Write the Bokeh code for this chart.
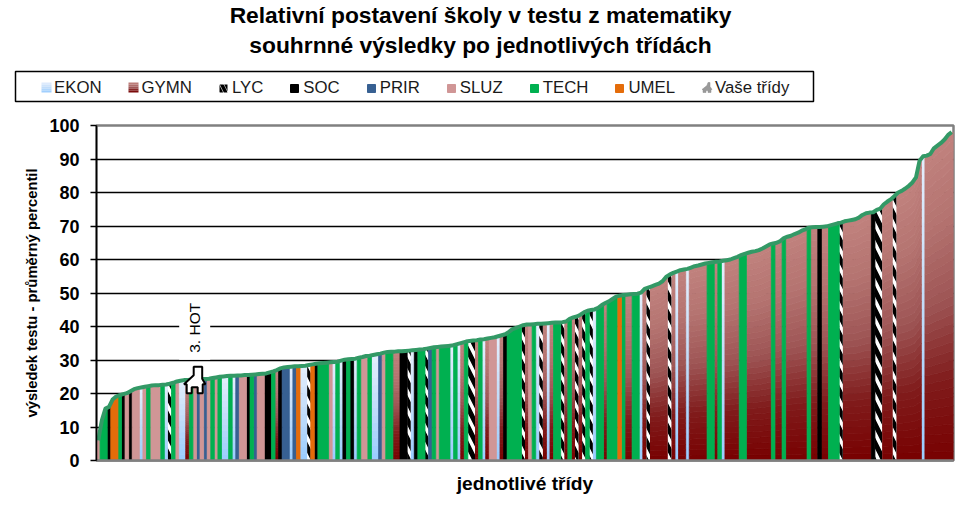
import math
import numpy as np
from bokeh.core.properties import value
from bokeh.embed import file_html
from bokeh.layouts import column
from bokeh.models import ColumnDataSource, FixedTicker, Label, Legend, LegendItem, Range1d
from bokeh.plotting import figure
from bokeh.resources import INLINE

title_lines = ["Relativní postavení školy v testu z matematiky",
               "souhrnné výsledky po jednotlivých třídách"]
y_label = "výsledek testu - průměrný percentil"
x_label = "jednotlivé třídy"
categories = ["EKON", "GYMN", "LYC", "SOC", "PRIR", "SLUZ", "TECH", "UMEL"]
your_classes_label = "Vaše třídy"
y_ticks = [0, 10, 20, 30, 40, 50, 60, 70, 80, 90, 100]

run_types = [
    "SLUZ","TECH","SOC","UMEL","TECH","SOC","SLUZ","SOC","SLUZ","EKON","SLUZ","TECH","SLUZ","TECH","EKON","LYC",
    "TECH","SLUZ","EKON","GYMN","TECH","SLUZ","PRIR","SLUZ","PRIR","SLUZ","TECH","SLUZ","TECH","EKON","TECH","EKON",
    "PRIR","SLUZ","SOC","TECH","PRIR","SLUZ","SOC","TECH","GYMN","SOC","PRIR","EKON","PRIR","UMEL",
    "EKON","LYC","UMEL","SOC","TECH","SLUZ","EKON","TECH","EKON","SOC","TECH","SOC","EKON","TECH","SLUZ","TECH",
    "EKON","PRIR","SLUZ","TECH","GYMN","SOC","LYC","EKON","SOC","TECH","LYC","PRIR","TECH","SLUZ","TECH","EKON",
    "TECH","EKON","GYMN","TECH","LYC","GYMN","TECH","EKON","GYMN","SLUZ","EKON","GYMN","SOC","TECH",
    "LYC","GYMN","SLUZ","TECH","EKON","LYC","GYMN","EKON","GYMN","TECH","LYC","GYMN","TECH","GYMN","LYC","GYMN",
    "LYC","TECH","LYC","EKON","TECH","GYMN","TECH","UMEL","TECH","GYMN","TECH","EKON","GYMN","LYC","GYMN","LYC",
    "GYMN","EKON","GYMN","EKON","GYMN","TECH","GYMN","TECH","EKON","GYMN",
    "TECH","GYMN","TECH","GYMN","TECH","GYMN","TECH","GYMN","SOC","GYMN","TECH","LYC","GYMN","SOC","LYC","GYMN",
    "LYC","GYMN","EKON","GYMN",
]
run_counts = [
    1,2,1,2,1,1,1,1,2,1,1,1,3,1,1,1,
    1,1,2,1,1,1,1,1,1,1,1,1,1,2,1,1,
    1,2,1,1,1,2,2,1,1,1,2,1,1,1,
    2,1,1,1,3,1,1,1,1,1,1,1,1,1,2,1,
    2,1,1,2,2,2,1,1,1,2,1,1,1,1,3,1,
    1,1,1,1,2,1,1,1,1,2,1,1,1,4,
    1,1,1,1,1,1,1,1,1,2,1,1,1,1,1,1,
    1,1,1,1,2,1,3,1,1,2,2,1,1,1,5,1,
    1,1,2,1,5,2,1,1,1,4,
    2,7,1,2,1,6,1,2,1,2,3,1,8,1,2,3,
    1,7,1,8,
]
# one value per class, left to right (classes sorted by result)
scores = [
    6,12,15.5,16,18.2,19.1,19.5,19.8,20.1,20.7,
    21.3,21.6,21.8,22.0,22.2,22.4,22.5,22.5,22.6,22.7,
    22.9,23.2,23.6,23.8,24.0,24.0,24.1,24.1,24.2,24.3,
    24.3,24.4,24.6,24.8,25.0,25.1,25.2,25.3,25.3,25.4,
    25.4,25.5,25.5,25.6,25.7,25.8,25.9,26.0,26.3,26.6,
    27.0,27.5,27.8,27.9,28.0,28.1,28.1,28.2,28.3,28.5,
    28.7,28.9,29.0,29.1,29.2,29.3,29.4,29.5,29.8,30.1,
    30.2,30.3,30.4,30.7,30.9,31.2,31.3,31.5,31.7,31.9,
    32.2,32.4,32.5,32.5,32.6,32.6,32.7,32.8,32.9,33.0,
    33.1,33.2,33.4,33.6,33.8,33.9,34.0,34.1,34.2,34.3,
    34.6,34.9,35.2,35.5,35.7,35.8,35.9,36.1,36.2,36.4,
    36.6,36.8,37.1,37.4,37.7,38.4,39.2,39.6,40.0,40.4,
    40.6,40.6,40.7,40.8,40.8,40.9,41.0,41.1,41.2,41.2,
    41.3,41.5,42.3,42.7,43.0,43.5,44.2,44.7,44.9,45.1,
    45.6,46.4,47.0,47.5,48.2,48.9,49.2,49.4,49.5,49.6,
    49.7,49.8,50.1,51.2,51.6,52.0,52.4,52.8,53.5,54.8,
    55.5,56.0,56.4,56.8,57.0,57.2,57.6,58.0,58.2,58.5,
    58.8,59.0,59.2,59.3,59.4,59.6,59.8,60.0,60.4,60.8,
    61.3,61.7,62.0,62.3,62.5,62.8,63.3,63.9,64.5,64.8,
    65.0,65.5,66.4,66.8,67.1,67.6,68.0,68.6,69.0,69.5,
    69.6,69.7,69.7,69.8,69.9,70.2,70.5,70.8,71.0,71.4,
    71.6,71.8,72.0,72.5,73.3,73.8,74.0,74.1,74.8,75.2,
    76.5,77.3,78.0,79.0,80.0,80.5,81.2,82.0,83.0,84.5,
    89.5,90.8,91.0,91.5,93.2,94.0,94.8,95.8,97.2,98.0,
]
marked_class = 27
marked_label = "3. HOT"

n = len(scores)
FONT = "Liberation Sans"
FLAT = {"SOC": "#000000", "PRIR": "#376092", "SLUZ": "#D09696", "TECH": "#00B050", "UMEL": "#E46C0A"}
GRAD = {"GYMN": ([0, .25, .5, .75, 1], [(120, 0, 0), (128, 28, 28), (158, 85, 85), (180, 115, 112), (193, 130, 126)], 36),
        "EKON": ([0, .5, 1], [(153, 204, 255), (192, 220, 250), (228, 238, 252)], 14)}
LINE = "#339966"
HEADER_H = 110


def grad_color(kind, t):
    stops, cols, _ = GRAD[kind]
    return "#%02x%02x%02x" % tuple(int(round(np.interp(t, stops, [c[j] for c in cols]))) for j in range(3))


v = np.array(scores, dtype=float)
edge_tops = np.concatenate([[v[0] * 0.6], (v[:-1] + v[1:]) / 2, [v[-1]]])

# ---- main chart ----
p = figure(width=965, height=504 - HEADER_H, output_backend="svg", toolbar_location=None,
           x_range=Range1d(0, n), y_range=Range1d(0, 100),
           min_border_left=96, min_border_right=12, min_border_top=125 - HEADER_H, min_border_bottom=44,
           background_fill_color="white", border_fill_color="white", frame_align=False)
p.outline_line_color = "#808080"
p.outline_line_width = 2.5

shapes = {c: dict(xs=[], ys=[], color=[]) for c in categories}
start = 0
for kind, count in zip(run_types, run_counts):
    ex = np.arange(start, start + count + 1, dtype=float)
    et = edge_tops[start:start + count + 1]
    s = shapes[kind]
    if kind in GRAD:
        bands = GRAD[kind][2]
        for k in range(bands):
            lo, hi = k / bands, (k + 1) / bands
            s["xs"].append(list(ex) + list(ex[::-1]))
            s["ys"].append(list(et * hi) + list((et * lo)[::-1]))
            s["color"].append(grad_color(kind, (k + .5) / bands))
    else:
        s["xs"].append(list(ex) + list(ex[::-1]))
        s["ys"].append(list(et) + [0.0] * (count + 1))
        s["color"].append(FLAT.get(kind, "#FFFFFF"))
    start += count

for c in categories:
    if c == "LYC":
        p.patches("xs", "ys", source=ColumnDataSource(shapes[c]), fill_color="white", line_color=None,
                  hatch_pattern="left_diagonal_line", hatch_color="black", hatch_scale=19, hatch_weight=5)
    else:
        p.patches("xs", "ys", source=ColumnDataSource(shapes[c]), fill_color="color",
                  line_color="color", line_width=0.8)

p.line(np.arange(n) + 0.5, v, line_color=LINE, line_width=4, line_join="round")

# house marker of the highlighted class
hx, hy = marked_class + 0.5, scores[marked_class]
px_x, px_y = n / 857.0, 100 / 335.0
house = [(-10.7, 4.5), (-1, -4.5), (-1, -13), (7.5, -13), (7.5, -1), (10.7, 4.5), (8, 4.5), (8, 13.5),
         (3, 13.5), (3, 7.5), (-3, 7.5), (-3, 13.5), (-8, 13.5), (-8, 4.5)]
p.patch([hx + a * px_x for a, b in house], [hy - b * px_y for a, b in house],
        fill_color="white", line_color="black", line_width=2)
p.add_layout(Label(x=hx, y=hy, y_offset=20, text=marked_label, angle=math.pi / 2, text_align="left",
                   text_baseline="middle", text_font=FONT, text_font_size="15.5px", text_color="black",
                   background_fill_color="white", padding=7))

ax = p.yaxis[0]
ax.ticker = FixedTicker(ticks=y_ticks)
ax.minor_tick_line_color = None
ax.major_tick_out = 6
ax.major_tick_in = 0
ax.major_tick_line_color = "black"
ax.major_tick_line_width = 1.5
ax.axis_line_color = "black"
ax.axis_line_width = 1.5
ax.major_label_text_font = FONT
ax.major_label_text_font_size = "18px"
ax.major_label_text_font_style = "bold"
ax.major_label_text_color = "black"
ax.major_label_standoff = 11
ax.axis_label = y_label
ax.axis_label_text_font = FONT
ax.axis_label_text_font_size = "14.8px"
ax.axis_label_text_font_style = "bold"
ax.axis_label_text_color = "black"
ax.axis_label_standoff = 6

bx = p.xaxis[0]
bx.ticker = FixedTicker(ticks=[])
bx.minor_tick_line_color = None
bx.major_tick_line_color = None
bx.major_label_text_font_size = "0px"
bx.axis_line_color = "#808080"
bx.axis_line_width = 2.5
bx.axis_label = x_label
bx.axis_label_text_font = FONT
bx.axis_label_text_font_size = "19.2px"
bx.axis_label_text_font_style = "bold"
bx.axis_label_text_color = "black"
bx.axis_label_standoff = 12

p.xgrid.visible = False
p.ygrid.grid_line_color = "black"
p.ygrid.grid_line_width = 1.5
p.ygrid.ticker = FixedTicker(ticks=y_ticks[1:-1])

# ---- header: title and legend ----
h = figure(width=965, height=HEADER_H, output_backend="svg", toolbar_location=None,
           x_range=Range1d(0, 965), y_range=Range1d(HEADER_H, 0), x_axis_type=None, y_axis_type=None,
           min_border=0, min_border_left=0, min_border_right=0, min_border_top=0, min_border_bottom=0,
           outline_line_color=None, background_fill_color="white", border_fill_color="white", frame_align=False)
h.grid.visible = False

for line, yy in zip(title_lines, (14, 44)):
    h.add_layout(Label(x=480, y=yy, text=line, text_align="center", text_baseline="alphabetic",
                       text_font=FONT, text_font_size="22.8px", text_font_style="bold", text_color="black"))

h.quad(left=[15], right=[813], top=[71], bottom=[101], fill_alpha=0, line_color="black", line_width=1.5)

swatches = {"EKON": 41, "GYMN": 128}
SW_TOP, SW_H, SW_W = 82, 10, 10
for kind, x0 in swatches.items():
    for k in range(5):
        h.quad(left=[x0], right=[x0 + SW_W], top=[SW_TOP + k * SW_H / 5], bottom=[SW_TOP + (k + 1) * SW_H / 5],
               fill_color=grad_color(kind, 1 - (k + .5) / 5), line_color=None)
hs = 706.5
mini = [(-5, 2), (0, -2), (1, -5), (3, -5), (3, -1), (5, 2), (4, 2), (4, 5), (1, 5), (1, 3), (-1, 3), (-1, 5),
        (-4, 5), (-4, 2)]
h.patch([hs + a for a, b in mini], [87 + b for a, b in mini], fill_color="#9a9a9a", line_color="#8a8a8a", line_width=0.5)

items = []
nan = float("nan")
for c in categories:
    if c in GRAD:
        kw = dict(fill_alpha=0, line_alpha=0)
    elif c == "LYC":
        kw = dict(fill_color="white", line_color=None, hatch_pattern="left_diagonal_line", hatch_color="black",
                  hatch_scale=9, hatch_weight=3.5)
    else:
        kw = dict(fill_color=FLAT[c], line_color=FLAT[c])
    r = h.quad(left=[nan], right=[nan], top=[nan], bottom=[nan], **kw)
    items.append(LegendItem(label=value(c), renderers=[r]))
r = h.quad(left=[nan], right=[nan], top=[nan], bottom=[nan], fill_alpha=0, line_alpha=0)
items.append(LegendItem(label=value(your_classes_label), renderers=[r]))
legend = Legend(items=items, orientation="horizontal", location=(40, 12.5), padding=0, margin=0,
                spacing=26, glyph_width=10, glyph_height=10, label_standoff=4, border_line_color=None,
                background_fill_alpha=0, label_text_font=FONT, label_text_font_size="16.8px",
                label_text_color="#1a1a1a", label_height=14)
h.add_layout(legend, "center")

layout = column(h, p, spacing=0)
open("out.html", "w").write(file_html(layout, INLINE))
